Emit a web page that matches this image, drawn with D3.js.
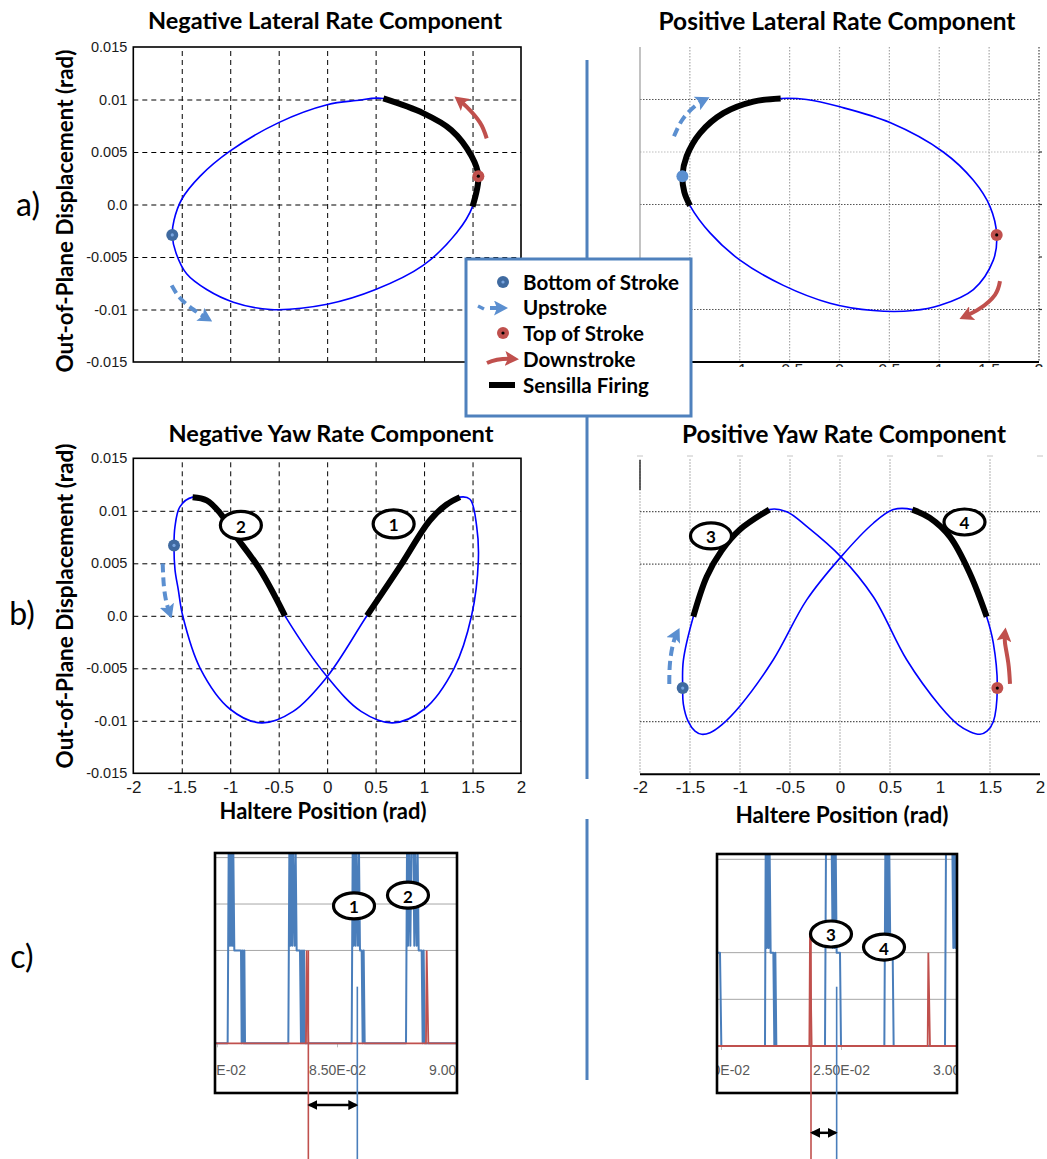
<!DOCTYPE html>
<html>
<head>
<meta charset="utf-8">
<script src="https://cdn.jsdelivr.net/npm/d3@7"></script>
<style>
  body { margin: 0; background: #fff; }
  svg { display: block; }
</style>
</head>
<body>
<svg id="fig" width="1047" height="1159"></svg>
<script>
// ---------- axis ticks ----------
const xTicks = [-2, -1.5, -1, -0.5, 0, 0.5, 1, 1.5, 2];
const xTickLabels = ["-2", "-1.5", "-1", "-0.5", "0", "0.5", "1", "1.5", "2"];
const yTicks = [0.015, 0.01, 0.005, 0, -0.005, -0.01, -0.015];
const yTickLabels = ["0.015", "0.01", "0.005", "0.0", "-0.005", "-0.01", "-0.015"];

// ---------- a) negative lateral rate: haltere tip trajectory [position, displacement] ----------
const negLatLoop = [
  [-1.598, -0.0029], [-1.56, -0.0046], [-1.45, -0.0066], [-1.243, -0.0081], [-0.968, -0.0093],
  [-0.583, -0.0100], [0.0, -0.0095], [0.5, -0.0081], [0.99, -0.0058], [1.336, -0.0027],
  [1.50, -0.0002], [1.56, 0.0027], [1.49, 0.0046], [1.28, 0.0071], [0.99, 0.0087],
  [0.58, 0.0101], [0.3, 0.0099], [0.0, 0.0095], [-0.5, 0.0078], [-1.0, 0.0051],
  [-1.31, 0.0027], [-1.5, 0.0005], [-1.58, -0.0015]
];
const negLatFiring = [10, 15];
const negLatBottom = [-1.598, -0.0029];
const negLatTop = [1.56, 0.0027];
const negLatUpArrow = [[-1.604, -0.0077], [-1.518, -0.0089], [-1.381, -0.0100], [-1.23, -0.0109]];
const negLatDownArrow = [[1.646, 0.0063], [1.577, 0.0078], [1.44, 0.0093], [1.354, 0.0100]];

// ---------- a) positive lateral rate ----------
const posLatLoop = [
  [-1.499, -0.0001], [-1.556, 0.0012], [-1.575, 0.0027], [-1.532, 0.0046], [-1.398, 0.0068],
  [-1.164, 0.0087], [-0.864, 0.0098], [-0.59, 0.0101], [-0.33, 0.0100], [0.005, 0.0093],
  [0.506, 0.0078], [1.04, 0.0050], [1.342, 0.0023], [1.509, -0.0002], [1.576, -0.0029],
  [1.542, -0.0053], [1.342, -0.0081], [1.008, -0.0096], [0.74, -0.0101], [0.339, -0.0101],
  [-0.095, -0.0094], [-0.563, -0.0077], [-0.998, -0.0053], [-1.298, -0.0027]
];
const posLatFiring = [0, 7];
const posLatBottom = [-1.575, 0.0027];
const posLatTop = [1.576, -0.0029];
const posLatUpArrow = [[-1.659, 0.0065], [-1.566, 0.0082], [-1.432, 0.0095], [-1.348, 0.0100]];
const posLatDownArrow = [[1.609, -0.0073], [1.559, -0.0086], [1.408, -0.0099], [1.248, -0.0107]];

// ---------- b) negative yaw rate ----------
const negYawLoop = [
  [-1.58, 0.0067], [-1.57, 0.0044], [-1.536, 0.0025], [-1.49, 0.0], [-1.31, -0.0050],
  [-1.0, -0.0089], [-0.676, -0.0102], [-0.35, -0.0091], [0.0, -0.0058],
  [0.41, 0.0], [0.752, 0.0047], [1.061, 0.0091], [1.233, 0.0106], [1.37, 0.0113],
  [1.474, 0.0111], [1.543, 0.0085], [1.56, 0.0053], [1.49, 0.0], [1.31, -0.0050],
  [1.0, -0.0089], [0.676, -0.0102], [0.35, -0.0091], [0.0, -0.0058],
  [-0.435, 0.0], [-0.693, 0.0044], [-0.968, 0.0079], [-1.106, 0.0098], [-1.243, 0.0110], [-1.388, 0.0113],
  [-1.518, 0.0104], [-1.57, 0.0085]
];
const negYawFiring1 = [9, 13];
const negYawFiring2 = [23, 28];
const negYawBottom = [-1.58, 0.0067];
const negYawUpArrow = [[-1.697, 0.0050], [-1.684, 0.0028], [-1.656, 0.0012], [-1.622, 0.0002]];
const negYawBadges = [{ x: 0.686, y: 0.00875, label: "1" }, { x: -0.89, y: 0.00862, label: "2" }];

// ---------- b) positive yaw rate ----------
const posYawLoop = [
  [-1.573, -0.0068], [-1.567, -0.0042], [-1.467, 0.0], [-1.333, 0.0038], [-1.183, 0.0063],
  [-1.0, 0.0083], [-0.707, 0.0102], [-0.533, 0.0100], [-0.333, 0.0086], [0.01, 0.0057],
  [0.333, 0.0019], [0.667, -0.0041], [1.0, -0.0085], [1.183, -0.0103], [1.3, -0.01095],
  [1.4, -0.0112], [1.47, -0.0109], [1.533, -0.0100], [1.573, -0.0068], [1.533, -0.0025],
  [1.467, 0.0], [1.3, 0.0041], [1.1, 0.0076], [0.9, 0.0094], [0.723, 0.0102],
  [0.533, 0.0102], [0.333, 0.0089], [0.01, 0.0057], [-0.333, 0.0016], [-0.667, -0.0041],
  [-1.0, -0.0085], [-1.183, -0.0103], [-1.3, -0.01105], [-1.383, -0.0112], [-1.45, -0.0109],
  [-1.517, -0.0100], [-1.567, -0.0083]
];
const posYawFiring3 = [2, 6];
const posYawFiring4 = [20, 24];
const posYawBottom = [-1.573, -0.0068];
const posYawTop = [1.573, -0.0068];
const posYawUpArrow = [[-1.707, -0.0064], [-1.70, -0.0044], [-1.667, -0.0025], [-1.627, -0.0015]];
const posYawDownArrow = [[1.70, -0.0064], [1.683, -0.0044], [1.65, -0.0025], [1.65, -0.0015]];
const posYawBadges = [{ x: -1.29, y: 0.00769, label: "3" }, { x: 1.245, y: 0.00902, label: "4" }];

// ---------- c) sensor traces [time (s), level] ----------
const cLeftTicks = [0.080, 0.085, 0.090];
const cLeftTickLabels = ["8.00E-02", "8.50E-02", "9.00E-02"];
const cLeftBlue = [
  [0.079917, 0], [0.080444, 0], [0.080486, 4.1], [0.080514, 2.1], [0.080542, 4.1], [0.080583, 2.1],
  [0.080611, 4.1], [0.080653, 2.1], [0.080681, 4.1], [0.080722, 2], [0.081, 2], [0.081028, 0],
  [0.081069, 2], [0.081111, 0], [0.081139, 2], [0.081167, 0],
  [0.082972, 0], [0.083014, 4.1], [0.083056, 2.1], [0.083097, 4.1], [0.083139, 2.1], [0.083181, 4.1],
  [0.083236, 2.1], [0.083278, 4.1], [0.083319, 2], [0.083458, 2], [0.0835, 0], [0.083542, 2],
  [0.083583, 0], [0.083625, 2], [0.083667, 0],
  [0.085611, 0], [0.085653, 4.1], [0.085694, 2.1], [0.085736, 4.1], [0.085778, 2.1], [0.085819, 4.1],
  [0.085875, 2.1], [0.085917, 4.1], [0.085958, 2], [0.086028, 2], [0.086069, 0], [0.086111, 2],
  [0.086153, 0],
  [0.087875, 0], [0.087917, 4.2], [0.087958, 2.1], [0.088, 4.2], [0.088056, 2.1], [0.088097, 4.2],
  [0.088181, 4.2], [0.088222, 2.1], [0.088264, 4.1], [0.088319, 2.1], [0.088361, 4.1], [0.088403, 2],
  [0.088528, 2], [0.088569, 0], [0.088611, 2], [0.088653, 0], [0.089986, 0]
];
const cLeftRed = [
  [0.079917, 0], [0.083708, 0], [0.083736, 2], [0.083806, 0], [0.088708, 0], [0.088736, 2],
  [0.088806, 0], [0.089986, 0]
];
const cLeftRedMark = [0.083806, 2];
const cLeftBlueMark = [0.085847, 1.22];
const cLeftSpanLevel = -1.33;
const cLeftBadges = [{ x: 0.085708, y: 2.96, label: "1" }, { x: 0.087958, y: 3.19, label: "2" }];

const cRightTicks = [0.020, 0.025, 0.030];
const cRightTickLabels = ["2.00E-02", "2.50E-02", "3.00E-02"];
const cRightBlue = [
  [0.019819, 2], [0.019958, 2], [0.020014, 0],
  [0.021833, 0], [0.021861, 4.1], [0.021903, 2.1], [0.021944, 4.1], [0.021986, 2.1], [0.022028, 4.1],
  [0.022069, 2], [0.022181, 2], [0.022222, 0], [0.022264, 2], [0.022306, 0],
  [0.024333, 0], [0.024375, 4.3], [0.024611, 4.3], [0.024653, 2.1], [0.024694, 4.3], [0.024736, 2.1],
  [0.024778, 4.3], [0.024819, 2], [0.024958, 2], [0.025, 0],
  [0.026806, 0], [0.026847, 4.1], [0.026889, 2.1], [0.026931, 4.1], [0.026972, 2.1], [0.027014, 4.1],
  [0.027056, 2], [0.027153, 2], [0.027194, 0],
  [0.029333, 0], [0.029375, 4.3], [0.029639, 4.3], [0.029681, 2.1], [0.029722, 4.3], [0.029764, 2.1],
  [0.029819, 4.3]
];
const cRightRed = [
  [0.019819, 0], [0.023681, 0], [0.023708, 2.4], [0.023778, 0], [0.028611, 0], [0.028639, 2],
  [0.028708, 0], [0.029819, 0]
];
const cRightRedMark = [0.02375, 2.4];
const cRightBlueMark = [0.024819, 1.27];
const cRightSpanLevel = -1.86;
const cRightBadges = [{ x: 0.024583, y: 2.40, label: "3" }, { x: 0.026792, y: 2.12, label: "4" }];

// ---------- styling ----------
const SANS = "Lato, 'Open Sans', sans-serif";
const ARIAL = "'Liberation Sans', Arial, sans-serif";
const TRACE_BLUE = "#0000ff";
const ARROW_BLUE = "#5b8fd0";
const ARROW_RED = "#c0504d";
const FRAME_BLUE = "#4f81bd";
const SIG_BLUE = "#4a7ebb";

const svg = d3.select("#fig");
svg.append("rect").attr("width", 1047).attr("height", 1159).attr("fill", "#fff");
const defs = svg.append("defs");

function headMarker(id, color) {
  defs.append("marker").attr("id", id)
    .attr("viewBox", "0 0 14 15").attr("refX", 9).attr("refY", 7.5)
    .attr("markerWidth", 14).attr("markerHeight", 15)
    .attr("markerUnits", "userSpaceOnUse").attr("orient", "auto")
    .append("path").attr("d", "M0,0 L14,7.5 L0,15 L3,7.5 Z").attr("fill", color);
}
headMarker("headBlue", ARROW_BLUE);
headMarker("headRed", ARROW_RED);
function dblMarker(id, orient) {
  defs.append("marker").attr("id", id)
    .attr("viewBox", "0 0 10 10").attr("refX", 8).attr("refY", 5)
    .attr("markerWidth", 10).attr("markerHeight", 10)
    .attr("markerUnits", "userSpaceOnUse").attr("orient", orient)
    .append("path").attr("d", "M0,0 L10,5 L0,10 Z").attr("fill", "#000");
}
dblMarker("headBlack", "auto");
dblMarker("headBlackStart", "auto-start-reverse");

function clipRect(id, x, y, w, h) {
  defs.append("clipPath").attr("id", id).append("rect")
    .attr("x", x).attr("y", y).attr("width", w).attr("height", h);
}

function fitText(sel, target) {
  const w = sel.node().getComputedTextLength();
  const fs = parseFloat(sel.attr("font-size"));
  if (w > 0) sel.attr("font-size", (fs * target / w).toFixed(2));
  return sel;
}

function textAt(g, x, y, str, size, opts = {}) {
  return g.append("text").attr("x", x).attr("y", y)
    .attr("text-anchor", opts.anchor || "middle")
    .attr("dominant-baseline", "central")
    .attr("font-family", opts.family || SANS)
    .attr("font-weight", opts.weight || 700)
    .attr("font-size", size)
    .attr("fill", opts.fill || "#000")
    .text(str);
}

// ---------- shared mark helpers ----------
function drawLoop(g, x, y, loop, firings) {
  const closed = d3.line().x(d => x(d[0])).y(d => y(d[1])).curve(d3.curveCatmullRomClosed.alpha(0.5));
  g.append("path").attr("d", closed(loop)).attr("fill", "none")
    .attr("stroke", TRACE_BLUE).attr("stroke-width", 1.6);
  const open = d3.line().x(d => x(d[0])).y(d => y(d[1])).curve(d3.curveCatmullRom.alpha(0.5));
  firings.forEach(([a, b]) => {
    g.append("path").attr("d", open(loop.slice(a, b + 1))).attr("fill", "none")
      .attr("stroke", "#000").attr("stroke-width", 6).attr("stroke-linecap", "butt");
  });
}
function strokeArrow(g, x, y, pts, kind) {
  const line = d3.line().x(d => x(d[0])).y(d => y(d[1])).curve(d3.curveNatural);
  g.append("path").attr("d", line(pts)).attr("fill", "none")
    .attr("stroke", kind === "up" ? ARROW_BLUE : ARROW_RED)
    .attr("stroke-width", 4)
    .attr("stroke-dasharray", kind === "up" ? "9,5" : null)
    .attr("marker-end", kind === "up" ? "url(#headBlue)" : "url(#headRed)");
}
function bottomDot(g, px, py, light) {
  g.append("circle").attr("cx", px).attr("cy", py).attr("r", 6)
    .attr("fill", light ? "#5b8fd0" : "#3f6aa0");
  if (!light) g.append("circle").attr("cx", px).attr("cy", py).attr("r", 1.6).attr("fill", "#7aa6e0");
}
function topDot(g, px, py) {
  g.append("circle").attr("cx", px).attr("cy", py).attr("r", 6).attr("fill", "#c0504d");
  g.append("circle").attr("cx", px).attr("cy", py).attr("r", 1.6).attr("fill", "#000");
}
function badge(g, px, py, label, rx = 20.5, ry = 14) {
  g.append("ellipse").attr("cx", px).attr("cy", py).attr("rx", rx).attr("ry", ry)
    .attr("fill", "#fff").attr("stroke", "#000").attr("stroke-width", 3.2);
  textAt(g, px, py + 1, label, 17);
}

// ---------- MATLAB-style panel with dashed grid ----------
function dashedPanel(x, y, showX) {
  const g = svg.append("g");
  const [x0, x1] = x.range(), [yb, yt] = y.range();
  g.append("g").attr("transform", `translate(0,${yb})`)
    .call(d3.axisBottom(x).tickValues(xTicks.slice(1, -1)).tickSize(-(yb - yt)).tickFormat(""))
    .call(a => a.select(".domain").remove())
    .selectAll("line").attr("stroke", "#000").attr("stroke-width", 1).attr("stroke-dasharray", "5,4");
  g.append("g").attr("transform", `translate(${x0},0)`)
    .call(d3.axisLeft(y).tickValues(yTicks.slice(1, -1)).tickSize(-(x1 - x0)).tickFormat(""))
    .call(a => a.select(".domain").remove())
    .selectAll("line").attr("stroke", "#000").attr("stroke-width", 1).attr("stroke-dasharray", "5,4");
  g.append("rect").attr("x", x0).attr("y", yt).attr("width", x1 - x0).attr("height", yb - yt)
    .attr("fill", "none").attr("stroke", "#000").attr("stroke-width", 1.6);
  const ya = g.append("g").attr("transform", `translate(${x0},0)`)
    .call(d3.axisLeft(y).tickValues(yTicks).tickFormat((d, i) => yTickLabels[i]).tickSize(0).tickPadding(6));
  ya.select(".domain").remove();
  ya.selectAll("text").attr("font-family", ARIAL).attr("font-size", 14.5).attr("fill", "#1a1a1a");
  if (showX) {
    const xa = g.append("g").attr("transform", `translate(0,${yb})`)
      .call(d3.axisBottom(x).tickValues(xTicks).tickFormat((d, i) => xTickLabels[i]).tickSize(0));
    xa.select(".domain").remove();
    xa.selectAll("text").attr("y", 14).attr("dy", "0.35em")
      .attr("font-family", ARIAL).attr("font-size", 17).attr("fill", "#1a1a1a");
  }
  return g;
}

// ---------- screenshot-style panel with dotted grid ----------
function dottedPanel(x, y, opts) {
  const g = svg.append("g");
  const [x0, x1] = x.range(), [yb, yt] = y.range();
  opts.vgrid.forEach(v => {
    g.append("line").attr("x1", x(v)).attr("x2", x(v)).attr("y1", yt).attr("y2", yb)
      .attr("stroke", v === 2 ? "#444" : "#a8a8a8").attr("stroke-width", 1.2).attr("stroke-dasharray", "1.5,1.5");
  });
  opts.hgrid.forEach(([v, c]) => {
    g.append("line").attr("x1", x0).attr("x2", x1).attr("y1", y(v)).attr("y2", y(v))
      .attr("stroke", c).attr("stroke-width", 1.2).attr("stroke-dasharray", "1.5,1.5");
  });
  g.append("line").attr("x1", x0).attr("x2", x1).attr("y1", yb).attr("y2", yb)
    .attr("stroke", "#000").attr("stroke-width", 2);
  return g;
}

// ================= a) left =================
const xAL = d3.scaleLinear().domain([-2, 2]).range([133.3, 521]);
const yAL = d3.scaleLinear().domain([-0.015, 0.015]).range([362, 47]);
const gAL = dashedPanel(xAL, yAL, false);
drawLoop(gAL, xAL, yAL, negLatLoop, [negLatFiring]);
strokeArrow(gAL, xAL, yAL, negLatUpArrow, "up");
strokeArrow(gAL, xAL, yAL, negLatDownArrow, "down");
bottomDot(gAL, xAL(negLatBottom[0]), yAL(negLatBottom[1]));
topDot(gAL, xAL(negLatTop[0]), yAL(negLatTop[1]));

// ================= a) right =================
const xAR = d3.scaleLinear().domain([-2, 2]).range([640, 1039]);
const yAR = d3.scaleLinear().domain([-0.015, 0.015]).range([362, 47]);
const gAR = dottedPanel(xAR, yAR, {
  vgrid: [-1.5, -1, -0.5, 0, 0.5, 1, 1.5, 2],
  hgrid: [[0.01, "#555"], [0.005, "#bdbdbd"], [0, "#555"], [-0.01, "#555"]]
});
gAR.append("line").attr("x1", 640).attr("x2", 640).attr("y1", 47).attr("y2", 362)
  .attr("stroke", "#9a9a9a").attr("stroke-width", 1.2);
[0.005, 0, -0.005, -0.01].forEach(v => {
  gAR.append("line").attr("x1", 1039).attr("x2", 1042).attr("y1", yAR(v)).attr("y2", yAR(v))
    .attr("stroke", "#333").attr("stroke-width", 1.2);
});
// tick labels of this axis are cut off just below the axis line
clipRect("arTickClip", 630, 364, 420, 3);
const arTicks = gAR.append("g").attr("clip-path", "url(#arTickClip)");
xTicks.forEach((v, i) => {
  if (xAR(v) < 692) return;
  arTicks.append("text").attr("x", xAR(v)).attr("y", 376).attr("text-anchor", "middle")
    .attr("font-family", ARIAL).attr("font-size", 16).attr("fill", "#222").text(xTickLabels[i]);
});
drawLoop(gAR, xAR, yAR, posLatLoop, [posLatFiring]);
strokeArrow(gAR, xAR, yAR, posLatUpArrow, "up");
strokeArrow(gAR, xAR, yAR, posLatDownArrow, "down");
bottomDot(gAR, xAR(posLatBottom[0]), yAR(posLatBottom[1]), true);
topDot(gAR, xAR(posLatTop[0]), yAR(posLatTop[1]));

// ================= b) left =================
const xBL = d3.scaleLinear().domain([-2, 2]).range([133.3, 521]);
const yBL = d3.scaleLinear().domain([-0.015, 0.015]).range([773.3, 458.3]);
const gBL = dashedPanel(xBL, yBL, true);
drawLoop(gBL, xBL, yBL, negYawLoop, [negYawFiring1, negYawFiring2]);
strokeArrow(gBL, xBL, yBL, negYawUpArrow, "up");
bottomDot(gBL, xBL(negYawBottom[0]), yBL(negYawBottom[1]));
negYawBadges.forEach(b => badge(gBL, xBL(b.x), yBL(b.y), b.label));

// ================= b) right =================
const xBR = d3.scaleLinear().domain([-2, 2]).range([640, 1040]);
const yBR = d3.scaleLinear().domain([-0.015, 0.015]).range([774.2, 459.2]);
const gBR = dottedPanel(xBR, yBR, {
  vgrid: [-2, -1.5, -1, -0.5, 0, 0.5, 1.5],
  hgrid: [[0.01, "#555"], [0.005, "#555"], [-0.01, "#555"]]
});
gBR.append("line").attr("x1", 640).attr("x2", 640).attr("y1", 460).attr("y2", 490)
  .attr("stroke", "#333").attr("stroke-width", 1.5);
xTicks.forEach(v => {
  gBR.append("line").attr("x1", xBR(v) - 3).attr("x2", xBR(v) + 3).attr("y1", 456).attr("y2", 456)
    .attr("stroke", "#c4c4c4").attr("stroke-width", 1);
});
const xaBR = gBR.append("g").attr("transform", "translate(0,774.2)")
  .call(d3.axisBottom(xBR).tickValues(xTicks).tickFormat((d, i) => xTickLabels[i]).tickSize(0));
xaBR.select(".domain").remove();
xaBR.selectAll("text").attr("y", 13).attr("dy", "0.35em")
  .attr("font-family", ARIAL).attr("font-size", 17).attr("fill", "#1a1a1a");
drawLoop(gBR, xBR, yBR, posYawLoop, [posYawFiring3, posYawFiring4]);
strokeArrow(gBR, xBR, yBR, posYawUpArrow, "up");
strokeArrow(gBR, xBR, yBR, posYawDownArrow, "down");
bottomDot(gBR, xBR(posYawBottom[0]), yBR(posYawBottom[1]));
topDot(gBR, xBR(posYawTop[0]), yBR(posYawTop[1]));
posYawBadges.forEach(b => badge(gBR, xBR(b.x), yBR(b.y), b.label, 20.5, 13));

// ================= c) traces =================
function tracePanel(cfg) {
  const g = svg.append("g");
  const [bx0, by0, bx1, by1] = cfg.box;
  const x = cfg.x, y = cfg.y;
  clipRect(cfg.id, bx0, by0, bx1 - bx0, by1 - by0);
  clipRect(cfg.id + "T", bx0 + 1, by0, bx1 - bx0 - 2, by1 - by0);
  g.append("rect").attr("x", bx0).attr("y", by0).attr("width", bx1 - bx0).attr("height", by1 - by0).attr("fill", "#fff");
  cfg.grid.forEach(v => {
    g.append("line").attr("x1", bx0).attr("x2", bx1).attr("y1", y(v)).attr("y2", y(v))
      .attr("stroke", "#a6a6a6").attr("stroke-width", 1);
  });
  // time axis: clipped by an untransformed wrapper so the clip stays in page space
  const ax = g.append("g").attr("clip-path", `url(#${cfg.id}T)`)
    .append("g").attr("transform", `translate(0,${y(0)})`)
    .call(d3.axisBottom(x).tickValues(cfg.ticks).tickFormat((d, i) => cfg.tickLabels[i]).tickSize(4));
  ax.select(".domain").remove();
  ax.selectAll("line").attr("stroke", "#bfbfbf");
  ax.selectAll("text").attr("y", cfg.labelOffset).attr("dy", "0.35em")
    .attr("font-family", ARIAL).attr("font-size", 14).attr("fill", "#595959");
  const line = d3.line().x(d => x(d[0])).y(d => y(d[1]));
  const tg = g.append("g").attr("clip-path", `url(#${cfg.id})`);
  tg.append("path").attr("d", line(cfg.blue)).attr("fill", "none")
    .attr("stroke", SIG_BLUE).attr("stroke-width", 2).attr("stroke-linejoin", "round");
  tg.append("path").attr("d", line(cfg.red)).attr("fill", "none")
    .attr("stroke", "#c0504d").attr("stroke-width", 1.8);
  g.append("rect").attr("x", bx0).attr("y", by0).attr("width", bx1 - bx0).attr("height", by1 - by0)
    .attr("fill", "none").attr("stroke", "#000").attr("stroke-width", 2.6);
  // event markers dropped below the trace window
  g.append("line").attr("x1", x(cfg.redMark[0])).attr("x2", x(cfg.redMark[0]))
    .attr("y1", y(cfg.redMark[1])).attr("y2", 1159).attr("stroke", "#c0504d").attr("stroke-width", 1.6);
  g.append("line").attr("x1", x(cfg.blueMark[0])).attr("x2", x(cfg.blueMark[0]))
    .attr("y1", y(cfg.blueMark[1])).attr("y2", 1159).attr("stroke", SIG_BLUE).attr("stroke-width", 1.6);
  g.append("line")
    .attr("x1", x(cfg.redMark[0]) + 1).attr("x2", x(cfg.blueMark[0]) - 1)
    .attr("y1", y(cfg.span)).attr("y2", y(cfg.span))
    .attr("stroke", "#000").attr("stroke-width", 2.5)
    .attr("marker-start", "url(#headBlackStart)").attr("marker-end", "url(#headBlack)");
  cfg.badges.forEach(b => badge(g, x(b.x), y(b.y), b.label, 20.5, 13));
}

tracePanel({
  id: "cLeftClip", box: [215, 853, 457, 1093],
  x: d3.scaleLinear().domain([0.080, 0.090]).range([217, 457]),
  y: d3.scaleLinear().domain([0, 4]).range([1043.3, 857.6]),
  grid: [2, 3, 4], ticks: cLeftTicks, tickLabels: cLeftTickLabels, labelOffset: 27,
  blue: cLeftBlue, red: cLeftRed, redMark: cLeftRedMark, blueMark: cLeftBlueMark,
  span: cLeftSpanLevel, badges: cLeftBadges
});
tracePanel({
  id: "cRightClip", box: [717, 854, 957, 1093],
  x: d3.scaleLinear().domain([0.020, 0.030]).range([721, 961]),
  y: d3.scaleLinear().domain([0, 4]).range([1046, 859.3]),
  grid: [1, 2, 4], ticks: cRightTicks, tickLabels: cRightTickLabels, labelOffset: 24,
  blue: cRightBlue, red: cRightRed, redMark: cRightRedMark, blueMark: cRightBlueMark,
  span: cRightSpanLevel, badges: cRightBadges
});

// ================= titles, axis titles, row letters =================
const gT = svg.append("g");
fitText(textAt(gT, 325, 20, "Negative Lateral Rate Component", 20), 354);
fitText(textAt(gT, 837, 20, "Positive Lateral Rate Component", 20), 357);
fitText(textAt(gT, 331, 433, "Negative Yaw Rate Component", 20), 325);
fitText(textAt(gT, 844, 433, "Positive Yaw Rate Component", 20), 324);
fitText(textAt(gT, 0, 0, "Out-of-Plane Displacement (rad)", 20).attr("transform", "translate(64,211) rotate(-90)"), 323);
fitText(textAt(gT, 0, 0, "Out-of-Plane Displacement (rad)", 20).attr("transform", "translate(64,606) rotate(-90)"), 325);
fitText(textAt(gT, 323, 810, "Haltere Position (rad)", 19), 207);
fitText(textAt(gT, 842, 814, "Haltere Position (rad)", 19), 213);
textAt(gT, 28, 203, "a)", 32, { weight: 400 });
textAt(gT, 22, 612, "b)", 32, { weight: 400 });
textAt(gT, 22, 955, "c)", 32, { weight: 400 });

// ================= column divider =================
svg.append("line").attr("x1", 587).attr("x2", 587).attr("y1", 60).attr("y2", 779)
  .attr("stroke", FRAME_BLUE).attr("stroke-width", 3);
svg.append("line").attr("x1", 587).attr("x2", 587).attr("y1", 819).attr("y2", 1080)
  .attr("stroke", FRAME_BLUE).attr("stroke-width", 3);

// ================= legend =================
const gL = svg.append("g");
gL.append("rect").attr("x", 466).attr("y", 259).attr("width", 225).attr("height", 157)
  .attr("fill", "#fff").attr("stroke", FRAME_BLUE).attr("stroke-width", 3);
const legendItems = ["Bottom of Stroke", "Upstroke", "Top of Stroke", "Downstroke", "Sensilla Firing"];
const legendY = [282, 307, 333, 359, 385];
const first = textAt(gL, 523, legendY[0], legendItems[0], 18, { anchor: "start" });
fitText(first, 156);
const legendSize = first.attr("font-size");
legendItems.slice(1).forEach((s, i) => textAt(gL, 523, legendY[i + 1], s, legendSize, { anchor: "start" }));
bottomDot(gL, 503, legendY[0]);
gL.append("path").attr("d", "M478,306 L484,309").attr("stroke", ARROW_BLUE).attr("stroke-width", 3.5).attr("fill", "none");
gL.append("path").attr("d", `M490,${legendY[1] + 1} L503,${legendY[1] + 1}`).attr("stroke", ARROW_BLUE)
  .attr("stroke-width", 4).attr("fill", "none").attr("marker-end", "url(#headBlue)");
topDot(gL, 503, legendY[2]);
gL.append("path").attr("d", `M487,${legendY[3] + 4} Q498,${legendY[3] - 1} 514,${legendY[3]}`).attr("stroke", ARROW_RED)
  .attr("stroke-width", 4).attr("fill", "none").attr("marker-end", "url(#headRed)");
gL.append("line").attr("x1", 489).attr("x2", 515).attr("y1", legendY[4]).attr("y2", legendY[4])
  .attr("stroke", "#000").attr("stroke-width", 6);
</script>
</body>
</html>
